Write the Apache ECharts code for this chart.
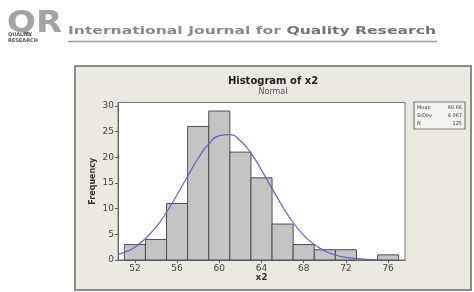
<!DOCTYPE html>
<html>
<head>
<meta charset="utf-8">
<script src="https://cdn.jsdelivr.net/npm/echarts@6/dist/echarts.min.js"></script>
<style>
html,body{margin:0;padding:0;background:#fff;}
#c{width:474px;height:292px;}
</style>
</head>
<body>
<div id="c"></div>
<script>
// ---- data ----
const binCenters = [52, 54, 56, 58, 60, 62, 64, 66, 68, 70, 72, 74, 76];
const binCounts  = [3, 4, 11, 26, 29, 21, 16, 7, 3, 2, 2, 0, 1];
const binWidth = 2;
const curveX = [50.4, 51, 52, 53, 54, 55, 56, 57, 58, 59, 60, 61, 62, 63, 64, 65, 66, 67, 68, 69, 70, 71, 72, 73, 74, 75];
const curveY = [1.1, 1.5, 2.5, 4.2, 6.4, 9.3, 12.7, 16.3, 19.8, 22.6, 24.2, 24.4, 23.2, 20.8, 17.5, 13.9, 10.4, 7.3, 4.8, 3.0, 1.75, 0.97, 0.5, 0.25, 0.11, 0.05];
const xTicks = [52, 56, 60, 64, 68, 72, 76];
const yTicks = [0, 5, 10, 15, 20, 25, 30];
const statLabels = ['Mean', 'StDev', 'N'];
const statValues = ['60.66', '4.067', '125'];
const titleText = 'Histogram of x2';
const subTitleText = 'Normal';
const headerA = 'International Journal for ';
const headerB = 'Quality Research';

// measure header for stretching
const mc = document.createElement('canvas').getContext('2d');
const fontA = 'bold 11px "DejaVu Sans"';
const fontB = 'bold 11px "DejaVu Sans"';
mc.font = fontA; const wA = mc.measureText(headerA).width;
mc.font = fontB; const wB = mc.measureText(headerB).width;
const headerLeft = 68, headerRight = 436;
const sx = (headerRight - headerLeft) / (wA + wB);

const chart = echarts.init(document.getElementById('c'), null, {renderer: 'canvas'});

const graphics = [
  {type: 'rect', z: -10, shape: {x: 75, y: 66, width: 396, height: 224}, style: {fill: '#ece9e0', stroke: '#8c8c8c', lineWidth: 2}},
  // logo
  {type: 'text', x: 7, y: 23.5, scaleX: 1.1, style: {text: 'QR', font: 'bold 31px "DejaVu Sans"', fill: '#a3a3a3', verticalAlign: 'middle'}},
  {type: 'text', x: 8, y: 34.5, style: {text: 'QUALITY', font: 'bold 5px "DejaVu Sans"', fill: '#555', verticalAlign: 'middle'}},
  {type: 'text', x: 8, y: 40.5, style: {text: 'RESEARCH', font: 'bold 5px "DejaVu Sans"', fill: '#555', verticalAlign: 'middle'}},
  // header
  {type: 'text', x: headerLeft, y: 31, scaleX: sx, originX: 0,
   style: {text: '{a|' + headerA + '}{b|' + headerB + '}', verticalAlign: 'middle',
     rich: {a: {font: fontA, fill: '#8a8a8a'}, b: {font: fontB, fill: '#747474'}}}},
  {type: 'line', shape: {x1: 68, y1: 41.5, x2: 437, y2: 41.5}, style: {stroke: '#9a9a9a', lineWidth: 1.5}},
  // titles
  {type: 'text', x: 273, y: 81, style: {text: titleText, font: 'bold 10px "DejaVu Sans"', fill: '#222', align: 'center', verticalAlign: 'middle'}},
  {type: 'text', x: 273, y: 92, style: {text: subTitleText, font: '8px "DejaVu Sans"', fill: '#555', align: 'center', verticalAlign: 'middle'}},
  // stats box
  {type: 'rect', shape: {x: 414, y: 102, width: 51, height: 27}, style: {fill: '#f4f2ec', stroke: '#7a7a7a', lineWidth: 1.2}}
];
statLabels.forEach((s, i) => {
  const yy = 107.5 + i * 8;
  graphics.push({type: 'text', x: 417, y: yy, style: {text: s, font: '5px "DejaVu Sans"', fill: '#444', verticalAlign: 'middle'}});
  graphics.push({type: 'text', x: 462, y: yy, style: {text: statValues[i], font: '5px "DejaVu Sans"', fill: '#444', align: 'right', verticalAlign: 'middle'}});
});

chart.setOption({
  animation: false,
  graphic: graphics,
  grid: {left: 118, right: 69, top: 102.5, bottom: 32, show: true, backgroundColor: '#ffffff', borderColor: '#777', borderWidth: 1},
  xAxis: {
    type: 'value', min: 50.4, max: 77.6,
    name: 'x2', nameLocation: 'middle', nameGap: 13, nameMoveOverlap: false,
    nameTextStyle: {fontFamily: 'DejaVu Sans', fontWeight: 'bold', fontSize: 9, color: '#333'},
    axisLine: {show: true, lineStyle: {color: '#666', width: 1}},
    axisTick: {show: true, length: 3, customValues: xTicks, lineStyle: {color: '#666'}},
    axisLabel: {customValues: xTicks, fontFamily: 'DejaVu Sans', fontSize: 9, color: '#444', margin: 4},
    splitLine: {show: false}
  },
  yAxis: {
    type: 'value', min: 0, max: 30.66,
    name: 'Frequency', nameLocation: 'middle', nameGap: 21, nameRotate: 90, nameMoveOverlap: false,
    nameTextStyle: {fontFamily: 'DejaVu Sans', fontWeight: 'bold', fontSize: 8, color: '#333'},
    axisLine: {show: true, lineStyle: {color: '#666', width: 1}},
    axisTick: {show: true, length: 3, customValues: yTicks, lineStyle: {color: '#666'}},
    axisLabel: {customValues: yTicks, fontFamily: 'DejaVu Sans', fontSize: 9, color: '#444', margin: 4},
    splitLine: {show: false}
  },
  series: [
    {
      type: 'custom',
      data: binCenters.map((c, i) => [c, binCounts[i]]),
      renderItem: function (params, api) {
        const x = api.value(0), y = api.value(1);
        if (!y) return null;
        const p0 = api.coord([x - binWidth / 2, y]);
        const p1 = api.coord([x + binWidth / 2, 0]);
        return {type: 'rect', shape: {x: p0[0], y: p0[1], width: p1[0] - p0[0], height: p1[1] - p0[1]},
          style: {fill: '#c4c4c4', stroke: '#4e4e4e', lineWidth: 1}};
      },
      z: 2
    },
    {
      type: 'line', smooth: true, showSymbol: false, symbol: 'none',
      data: curveX.map((x, i) => [x, curveY[i]]),
      lineStyle: {color: '#6060cc', width: 1.2},
      z: 3
    }
  ]
});
</script>
</body>
</html>
